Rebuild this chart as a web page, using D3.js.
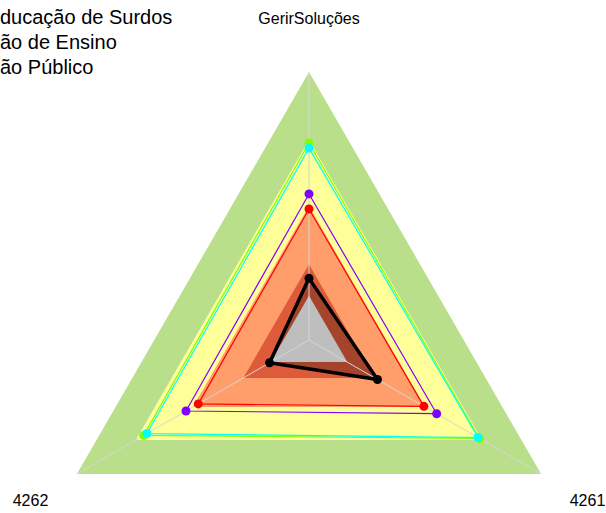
<!DOCTYPE html>
<html>
<head>
<meta charset="utf-8">
<title>Radar</title>
<style>
  body { margin: 0; background: #fff; overflow: hidden; }
  svg text { font-family: "Liberation Sans", Arial, sans-serif; fill: #000; }
</style>
</head>
<body>
<script src="https://d3js.org/d3.v7.min.js"></script>
<script>
// axes, counter-clockwise from the top
var axes = ["GerirSoluções", "4262", "4261"];

// legend lines (cut off on the left in the original)
var legendLines = ["ducação de Surdos", "ão de Ensino", "ão Público"];

// background bands (fraction of full scale)
var bandOuter  = [1, 1, 1];
var bandYellow = [0.746, 0.746, 0.746];
var bandOrange = [0.5, 0.5, 0.5];
var bandRed    = [0.283, 0.283, 0.283];
var bandGrey   = [0.165, 0.165, 0.165];

// series values
var serGreen  = [0.735, 0.712, 0.735];
var serCyan   = [0.716, 0.698, 0.728];
var serPurple = [0.545, 0.530, 0.550];
var serRed    = [0.489, 0.477, 0.495];
var serBlack  = [0.230, 0.170, 0.295];

var W = 606, H = 513;
var cx = 309, cy = 340, R = 268;

var svg = d3.select("body").append("svg")
    .attr("width", W).attr("height", H);

var r = d3.scaleLinear().domain([0, 1]).range([0, R]);
var angle = function(i) { return -Math.PI / 2 - i * 2 * Math.PI / axes.length; };
var pt = function(v, i) { return [cx + r(v) * Math.cos(angle(i)), cy + r(v) * Math.sin(angle(i))]; };
var line = d3.line().curve(d3.curveLinearClosed);
var poly = function(vals) { return line(vals.map(pt)); };

var g = svg.append("g");

// bands
[[bandOuter, "#b9df8b"], [bandYellow, "#ffff99"], [bandOrange, "#ff9e6a"], [bandRed, "#dd5b3a"]]
  .forEach(function(b) {
    g.append("path").attr("d", poly(b[0])).attr("fill", b[1]);
  });

// black series fill darkens what is under it
g.append("path").attr("d", poly(serBlack)).attr("fill", "rgba(0,0,0,0.25)");
g.append("path").attr("d", poly(bandGrey)).attr("fill", "#bebebe");

// spokes
axes.forEach(function(a, i) {
  var p = pt(1, i);
  g.append("line")
    .attr("x1", cx).attr("y1", cy).attr("x2", p[0]).attr("y2", p[1])
    .attr("stroke", "#d6d6d6").attr("stroke-width", 1);
});

// series lines + dots
var series = [
  {v: serGreen,  c: "#80ff00", w: 1.2},
  {v: serCyan,   c: "#00ffff", w: 1.2},
  {v: serPurple, c: "#8000ff", w: 1.2},
  {v: serRed,    c: "#ff0000", w: 1.2},
  {v: serBlack,  c: "#000000", w: 3.5}
];
series.forEach(function(s) {
  g.append("path").attr("d", poly(s.v))
    .attr("fill", "none").attr("stroke", s.c).attr("stroke-width", s.w)
    .attr("stroke-linejoin", "round");
});
series.forEach(function(s) {
  g.selectAll(null).data(s.v).enter().append("circle")
    .attr("cx", function(d, i) { return pt(d, i)[0]; })
    .attr("cy", function(d, i) { return pt(d, i)[1]; })
    .attr("r", 4.5).attr("fill", s.c);
});

// axis labels
axes.forEach(function(a, i) {
  var p = pt(1.2, i);
  svg.append("text")
    .attr("x", p[0]).attr("y", p[1])
    .attr("text-anchor", "middle").attr("dominant-baseline", "central")
    .style("font-size", "16px")
    .text(a);
});

// legend text
legendLines.forEach(function(t, i) {
  svg.append("text")
    .attr("x", 0).attr("y", 24 + i * 25)
    .style("font-size", "20px")
    .text(t);
});
</script>
</body>
</html>
